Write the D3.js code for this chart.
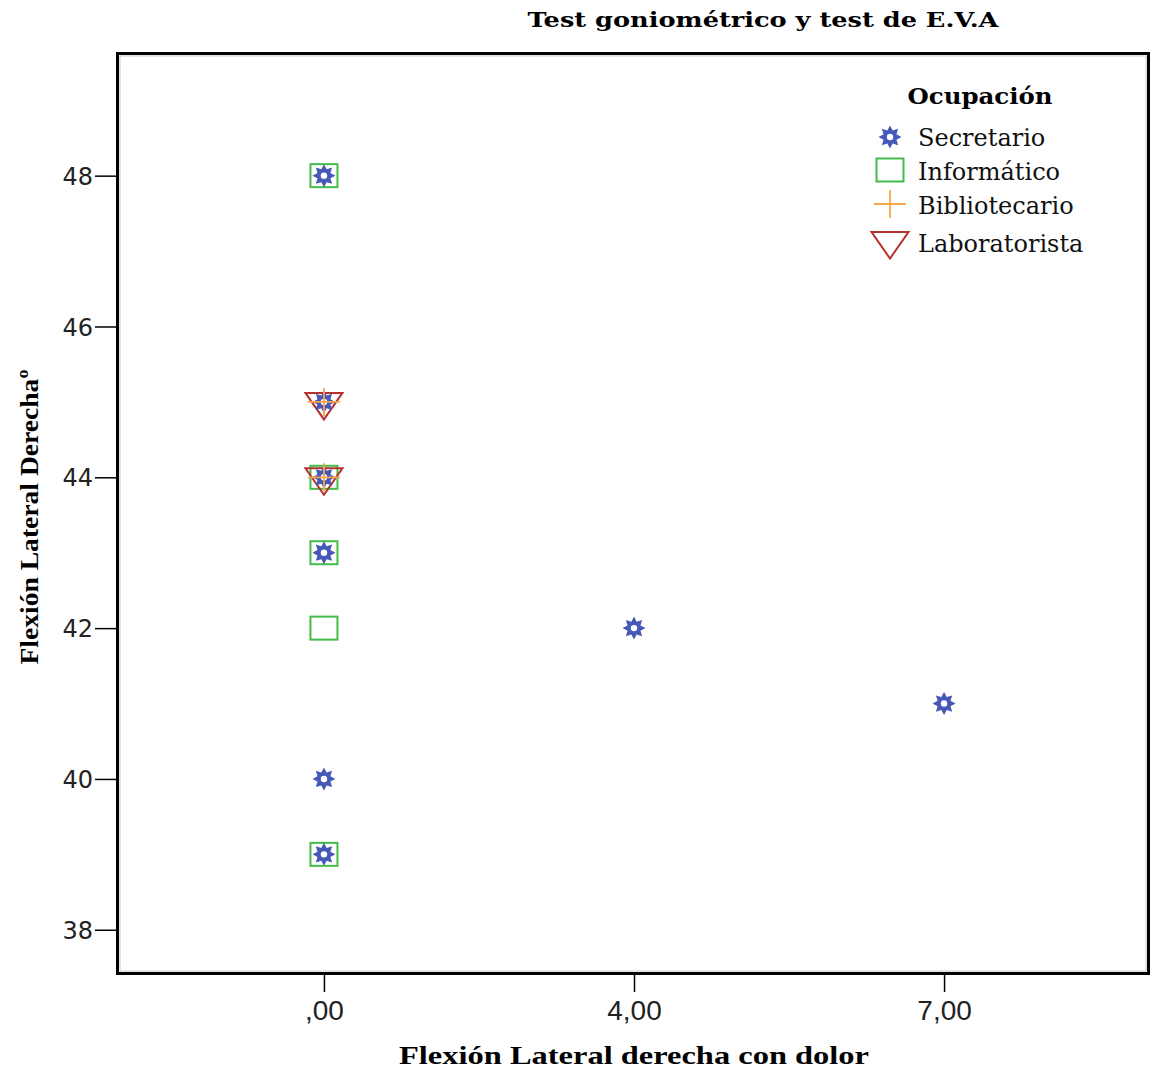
<!DOCTYPE html>
<html>
<head>
<meta charset="utf-8">
<script src="https://cdn.jsdelivr.net/npm/d3@7/dist/d3.min.js"></script>
<style>
  html, body { margin: 0; padding: 0; background: #fff; }
  svg { display: block; }
</style>
</head>
<body>
<svg id="chart" width="1151" height="1070"></svg>
<script>
// ---- data ----
const xCategories = ["0", "4", "7"];
const xTickLabels = [",00", "4,00", "7,00"];
const yTicks = [38, 40, 42, 44, 46, 48];
const seriesNames = ["Secretario", "Informático", "Bibliotecario", "Laboratorista"];
const secretarioX = ["0", "0", "0", "0", "0", "0", "4", "7"];
const secretarioY = [48, 45, 44, 43, 40, 39, 42, 41];
const informaticoX = ["0", "0", "0", "0", "0"];
const informaticoY = [48, 44, 43, 42, 39];
const bibliotecarioX = ["0", "0"];
const bibliotecarioY = [45, 44];
const laboratoristaX = ["0", "0"];
const laboratoristaY = [45, 44];

const colors = { Secretario: "#4659b8", "Informático": "#45bb4a", Bibliotecario: "#f8a64a", Laboratorista: "#b5322e" };

const svg = d3.select("#chart");
const pLeft = 117.5, pRight = 1148.5, pTop = 53.5, pBottom = 973.5;

const x = d3.scalePoint().domain(xCategories).range([119, 1149]).padding(0.661);
const y = d3.scaleLinear().domain([37.42, 49.62]).range([pBottom, pTop]);

// marker drawing
function starPath(r1, r2, n) {
  const pts = [];
  for (let i = 0; i < 2 * n; i++) {
    const a = Math.PI * i / n - Math.PI / 2;
    const r = i % 2 === 0 ? r1 : r2;
    pts.push([r * Math.cos(a), r * Math.sin(a)]);
  }
  return "M" + pts.map(p => p[0].toFixed(2) + "," + p[1].toFixed(2)).join("L") + "Z";
}
function drawMarker(g, name, cx, cy) {
  const c = colors[name];
  if (name === "Secretario") {
    g.append("path").attr("d", starPath(11.5, 7, 8)).attr("transform", `translate(${cx},${cy})`)
      .attr("fill", c);
    g.append("circle").attr("cx", cx).attr("cy", cy).attr("r", 3.2).attr("fill", "#fff");
  } else if (name === "Informático") {
    g.append("rect").attr("x", cx - 13.5).attr("y", cy - 11.5).attr("width", 27).attr("height", 23)
      .attr("fill", "none").attr("stroke", c).attr("stroke-width", 2);
  } else if (name === "Bibliotecario") {
    g.append("path").attr("d", `M${cx - 16},${cy}H${cx + 16}M${cx},${cy - 14}V${cy + 14}`)
      .attr("stroke", c).attr("stroke-width", 1.8).attr("fill", "none");
  } else {
    g.append("path").attr("d", `M${cx - 18.5},${cy - 9}L${cx + 18.5},${cy - 9}L${cx},${cy + 17.5}Z`)
      .attr("fill", "none").attr("stroke", c).attr("stroke-width", 2).attr("stroke-linejoin", "miter");
  }
}

// frame
svg.append("rect").attr("x", pLeft + 2.5).attr("y", pTop + 2.5).attr("width", pRight - pLeft - 5).attr("height", pBottom - pTop - 5)
  .attr("fill", "none").attr("stroke", "#c8c8c8").attr("stroke-width", 1);
svg.append("rect").attr("x", pLeft).attr("y", pTop).attr("width", pRight - pLeft).attr("height", pBottom - pTop)
  .attr("fill", "none").attr("stroke", "#000").attr("stroke-width", 3);

// y axis
const yAxis = d3.axisLeft(y).tickValues(yTicks).tickSize(21).tickPadding(2).tickFormat(d3.format("d"));
const gy = svg.append("g").attr("transform", `translate(${pLeft - 1.5},0)`).call(yAxis);
gy.select(".domain").remove();
gy.selectAll(".tick line").attr("stroke", "#000").attr("stroke-width", 1.5);
gy.selectAll(".tick text").attr("font-family", "DejaVu Sans").attr("font-size", 24).attr("fill", "#222")
  .attr("dy", "0.36em");

// x axis
const xAxis = d3.axisBottom(x).tickSize(17).tickPadding(8).tickFormat((d, i) => xTickLabels[i]);
const gx = svg.append("g").attr("transform", `translate(0,${pBottom + 1.5})`).call(xAxis);
gx.select(".domain").remove();
gx.selectAll(".tick line").attr("stroke", "#000").attr("stroke-width", 1.5);
gx.selectAll(".tick text").attr("font-family", "Liberation Sans").attr("font-size", 28).attr("fill", "#222");

// points
const plot = svg.append("g");
const order = [
  ["Informático", informaticoX, informaticoY],
  ["Laboratorista", laboratoristaX, laboratoristaY],
  ["Secretario", secretarioX, secretarioY],
  ["Bibliotecario", bibliotecarioX, bibliotecarioY]
];
order.forEach(([name, xs, ys]) => {
  xs.forEach((xv, i) => drawMarker(plot, name, x(xv), y(ys[i])));
});

// title
svg.append("text").attr("x", 763).attr("y", 27).attr("text-anchor", "middle")
  .attr("font-family", "DejaVu Serif").attr("font-weight", "bold").attr("font-size", 21)
  .attr("textLength", 471).attr("lengthAdjust", "spacingAndGlyphs")
  .text("Test goniométrico y test de E.V.A");

// axis titles
svg.append("text").attr("x", 634).attr("y", 1064).attr("text-anchor", "middle")
  .attr("font-family", "Liberation Serif").attr("font-weight", "bold").attr("font-size", 25)
  .attr("textLength", 470).attr("lengthAdjust", "spacingAndGlyphs")
  .text("Flexión Lateral derecha con dolor");
svg.append("text").attr("transform", "translate(38,517) rotate(-90)").attr("text-anchor", "middle")
  .attr("font-family", "Liberation Serif").attr("font-weight", "bold").attr("font-size", 26)
  .attr("textLength", 295).attr("lengthAdjust", "spacingAndGlyphs")
  .text("Flexión Lateral Derechaº");

// legend
const lg = svg.append("g");
lg.append("text").attr("x", 980).attr("y", 104).attr("text-anchor", "middle")
  .attr("font-family", "DejaVu Serif").attr("font-weight", "bold").attr("font-size", 22)
  .attr("textLength", 145).attr("lengthAdjust", "spacingAndGlyphs").text("Ocupación");
const legendY = [137, 170, 204, 241];
const legendTextY = [146, 180, 214, 252];
seriesNames.forEach((name, i) => {
  drawMarker(lg, name, 890, legendY[i]);
  lg.append("text").attr("x", 918).attr("y", legendTextY[i])
    .attr("font-family", "DejaVu Serif").attr("font-size", 24).attr("fill", "#111").text(name);
});
</script>
</body>
</html>
